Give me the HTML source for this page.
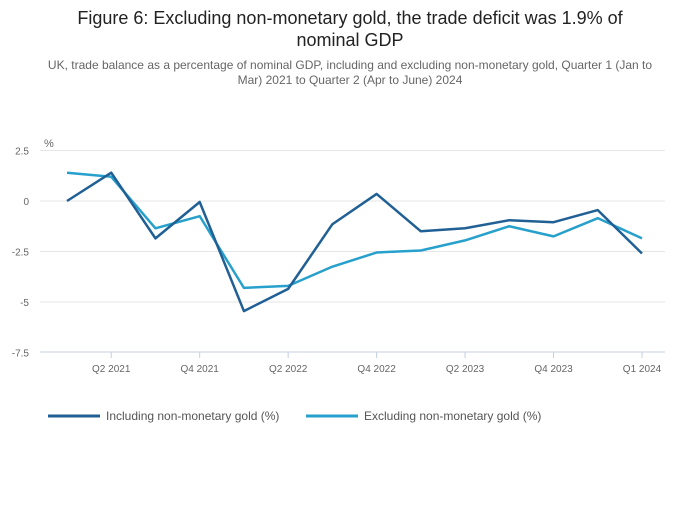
<!DOCTYPE html>
<html><head><meta charset="utf-8"><style>
body{margin:0;background:#fff;font-family:"Liberation Sans",sans-serif}
</style></head><body>
<svg width="700" height="502" viewBox="0 0 700 502" font-family="'Liberation Sans',sans-serif">
<text x="350" y="24" text-anchor="middle" font-size="18" fill="#222">Figure 6: Excluding non-monetary gold, the trade deficit was 1.9% of</text>
<text x="350" y="46" text-anchor="middle" font-size="18" fill="#222">nominal GDP</text>
<text x="350" y="69" text-anchor="middle" font-size="12" fill="#666">UK, trade balance as a percentage of nominal GDP, including and excluding non-monetary gold, Quarter 1 (Jan to</text>
<text x="350" y="84" text-anchor="middle" font-size="12" fill="#666">Mar) 2021 to Quarter 2 (Apr to June) 2024</text>
<text x="44" y="147" font-size="11" fill="#666">%</text>
<g id="grid"></g><g id="xaxis"></g><g id="lines"></g>
<g>
<line x1="48" y1="416" x2="100" y2="416" stroke="#206095" stroke-width="3"/>
<text x="106" y="420" font-size="12" fill="#555">Including non-monetary gold (%)</text>
<line x1="306" y1="416" x2="358" y2="416" stroke="#27a0cc" stroke-width="3"/>
<text x="364" y="420" font-size="12" fill="#555">Excluding non-monetary gold (%)</text>
</g>
</svg>
<script>
const categories=["Q1 2021","Q2 2021","Q3 2021","Q4 2021","Q1 2022","Q2 2022","Q3 2022","Q4 2022","Q1 2023","Q2 2023","Q3 2023","Q4 2023","Q1 2024","Q2 2024"];
const tickLabels=["Q2 2021","Q4 2021","Q2 2022","Q4 2022","Q2 2023","Q4 2023","Q1 2024"];
const tickIndices=[1,3,5,7,9,11,13];
const includingGold=[0.0,1.4,-1.85,-0.05,-5.45,-4.35,-1.15,0.35,-1.5,-1.35,-0.95,-1.05,-0.45,-2.6];
const excludingGold=[1.4,1.2,-1.35,-0.75,-4.3,-4.2,-3.25,-2.55,-2.45,-1.95,-1.25,-1.75,-0.85,-1.85];
const yTicks=[2.5,0,-2.5,-5,-7.5];
const yLabels=["2.5","0","-2.5","-5","-7.5"];
const ns="http://www.w3.org/2000/svg";
const x=i=>67+i*44.23;
const y=v=>201-v*20.2;
function mk(t,a,p){const e=document.createElementNS(ns,t);for(const k in a)e.setAttribute(k,a[k]);p.appendChild(e);return e;}
const grid=document.getElementById('grid');
yTicks.forEach((v,i)=>{
  if(v!==-7.5){const l=mk('line',{x1:40,x2:665,y1:y(v),y2:y(v),stroke:'#e6e6e6','stroke-width':1},grid);
  
  }
  const t=mk('text',{x:29,y:y(v)+4,'text-anchor':'end','font-size':10,fill:'#666'},grid);t.textContent=yLabels[i];
  
  
});
const xa=document.getElementById('xaxis');
const ax=mk('line',{x1:40,x2:665,y1:352,y2:352,stroke:'#c5cfe0','stroke-width':1},xa);


tickIndices.forEach((ci,i)=>{
  mk('line',{x1:x(ci),x2:x(ci),y1:352,y2:358,stroke:'#c5cfe0'},xa);
  const t=mk('text',{x:x(ci),y:372,'text-anchor':'middle','font-size':10,fill:'#666'},xa);t.textContent=tickLabels[i];
  
  
});
const lines=document.getElementById('lines');
[[excludingGold,'#27a0cc','line-excluding-gold'],[includingGold,'#206095','line-including-gold']].forEach(([d,c,n])=>{
  const p=mk('polyline',{points:d.map((v,i)=>x(i)+','+y(v)).join(' '),fill:'none',stroke:c,'stroke-width':2.5,'stroke-linejoin':'round'},lines);
  
  
});
</script>
</body></html>
